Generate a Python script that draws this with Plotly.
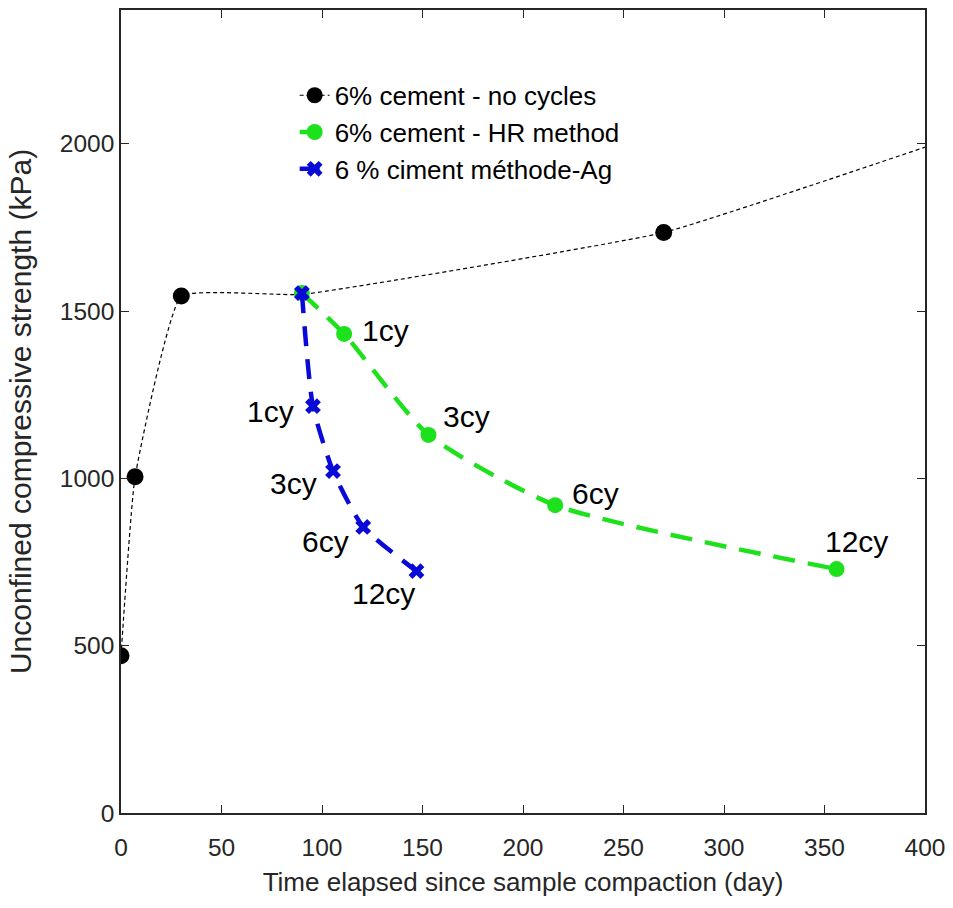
import plotly.graph_objects as go

# ---- data ----
ref_days = [0, 7, 30, 90, 270, 400]
ref_ucs = [470, 1005, 1545, 1550, 1735, 1990]
ref_marker_on = [1, 1, 1, 0, 1, 0]

hr_days = [90, 111, 153, 216, 356]
hr_ucs = [1554, 1432, 1130, 920, 729]
hr_labels = ["", "1cy", "3cy", "6cy", "12cy"]

ag_days = [90, 95.5, 105.5, 120.5, 147]
ag_ucs = [1554, 1216, 1022, 855, 723]
ag_labels = ["", "1cy", "3cy", "6cy", "12cy"]

names = ["6% cement - no cycles", "6% cement - HR method", "6 % ciment méthode-Ag"]

# label offsets in pixels (style)
hr_off = [(0, 0), (41, 3), (38, 18), (40, 12), (20, 28)]
ag_off = [(0, 0), (-42, -5), (-40, -12), (-38, -15), (-33, -22)]

FONT = "Liberation Sans, Arial, sans-serif"
AXC = "#262626"
GREEN = "#1ee11e"
BLUE = "#0a0ad8"

black_line = dict(color="black", width=1.2, dash="4px,3px")
green_line = dict(color=GREEN, width=4.5, dash="22px,13px")
blue_line = dict(color=BLUE, width=4.5, dash="20px,13px")
black_mk = dict(color="black", size=17, opacity=1, line=dict(width=0))
green_mk = dict(color=GREEN, size=16, symbol="circle")
blue_mk = dict(color=BLUE, size=14, symbol="x")

fig = go.Figure()
fig.add_trace(go.Scatter(
    x=ref_days, y=ref_ucs, mode="lines+markers", showlegend=False,
    line=dict(**black_line, shape="spline", smoothing=0.35),
    marker=dict(color="black", size=[17 * m for m in ref_marker_on], opacity=1, line=dict(width=0)),
))
fig.add_trace(go.Scatter(
    x=hr_days, y=hr_ucs, mode="lines+markers", showlegend=False,
    line=dict(**green_line, shape="spline", smoothing=0.6), marker=green_mk,
))
fig.add_trace(go.Scatter(
    x=ag_days, y=ag_ucs, mode="lines+markers", showlegend=False,
    line=dict(**blue_line, shape="spline", smoothing=0.6), marker=blue_mk,
))
# legend entries
for nm, ln, mk in zip(names, [black_line, green_line, blue_line], [black_mk, green_mk, blue_mk]):
    fig.add_trace(go.Scatter(x=[None], y=[None], mode="lines+markers", name=nm, line=ln, marker=mk))

annotations = []
for xs, ys, labs, offs in [(hr_days, hr_ucs, hr_labels, hr_off), (ag_days, ag_ucs, ag_labels, ag_off)]:
    for x, y, t, (dx, dy) in zip(xs, ys, labs, offs):
        if not t:
            continue
        annotations.append(dict(x=x, y=y, text=t, showarrow=False, xshift=dx, yshift=dy,
                                font=dict(family=FONT, size=30, color="black")))

fig.update_layout(
    width=953, height=908,
    margin=dict(l=121, r=28, t=10, b=95),
    paper_bgcolor="white", plot_bgcolor="white",
    font=dict(family=FONT, size=24, color=AXC),
    showlegend=True,
    legend=dict(x=0.216, y=0.923, xanchor="left", yanchor="top",
                bgcolor="rgba(255,255,255,0)", borderwidth=0,
                font=dict(family=FONT, size=26, color="black"),
                traceorder="normal"),
    annotations=annotations,
)
fig.update_xaxes(
    range=[0, 400], tickvals=[0, 50, 100, 150, 200, 250, 300, 350, 400],
    ticks="inside", ticklen=8, tickcolor=AXC, tickwidth=1.2,
    showline=True, linecolor=AXC, linewidth=1.5, mirror="ticks",
    showgrid=False, zeroline=False, automargin=False, ticklabelstandoff=12,
    tickfont=dict(family=FONT, size=24.5, color=AXC),
    title=dict(text="Time elapsed since sample compaction (day)", font=dict(family=FONT, size=26, color=AXC), standoff=13),
)
fig.update_yaxes(
    range=[0, 2400], tickvals=[0, 500, 1000, 1500, 2000],
    ticks="inside", ticklen=8, tickcolor=AXC, tickwidth=1.2,
    showline=True, linecolor=AXC, linewidth=1.5, mirror="ticks",
    showgrid=False, zeroline=False, automargin=False,
    tickfont=dict(family=FONT, size=24.5, color=AXC),
    title=dict(text="Unconfined compressive strength (kPa)", font=dict(family=FONT, size=30, color=AXC), standoff=19),
)

fig.write_html("out.html")
